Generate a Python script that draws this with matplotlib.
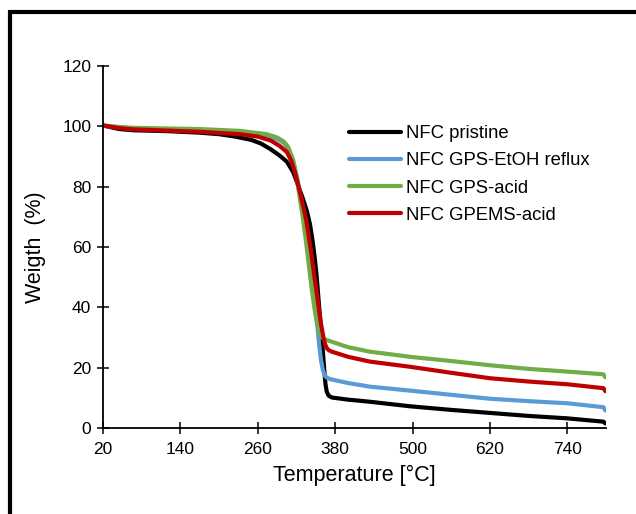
import matplotlib.pyplot as plt
from matplotlib.patches import Rectangle

plt.rcParams['font.family'] = ['Liberation Sans', 'DejaVu Sans']

# ========== data ==========
t_pristine = [20, 30, 45, 67, 120, 170, 200, 225, 250, 265, 280, 294, 305, 315, 322, 330, 336, 341,
              345, 348, 351, 356, 360, 363, 365, 367, 370, 375, 400, 434, 496, 560, 620, 680, 740, 796, 799]
w_pristine = [100.3, 99.8, 99.1, 98.7, 98.4, 97.9, 97.4, 96.6, 95.5, 94.3, 92.4, 90.3, 88.3, 84.8, 80.8, 76.0, 72.0, 67.5,
              62.0, 57.0, 51.0, 38.0, 28.0, 19.5, 14.5, 12.0, 10.7, 10.1, 9.4, 8.7, 7.2, 6.0, 5.0, 4.0, 3.2, 2.1, 1.5]

t_etoh = [20, 45, 67, 170, 232, 274, 290, 300, 307, 315, 322, 330, 337, 343, 350, 355, 358, 361,
          364, 368, 372, 400, 434, 496, 560, 620, 680, 740, 796, 799]
w_etoh = [100.2, 99.6, 99.3, 98.8, 98.2, 97.0, 95.8, 94.6, 92.8, 88.2, 82.0, 72.5, 63.0, 52.0, 39.0, 28.0, 22.5, 19.2,
          17.3, 16.6, 16.2, 14.9, 13.7, 12.4, 11.0, 9.7, 8.9, 8.2, 6.9, 5.8]

t_acid = [20, 45, 67, 170, 232, 274, 290, 300, 307, 315, 320, 325, 330, 335, 340, 344, 348, 351,
          354, 357, 360, 365, 372, 400, 434, 496, 560, 620, 680, 740, 796, 799]
w_acid = [100.3, 99.8, 99.5, 99.1, 98.5, 97.4, 96.3, 95.0, 93.2, 88.8, 83.5, 76.5, 69.5, 61.5, 52.5, 45.5, 39.5, 35.8,
          33.0, 31.0, 29.9, 29.3, 28.8, 26.8, 25.3, 23.6, 22.2, 20.8, 19.6, 18.7, 17.8, 16.8]

t_gpems = [20, 45, 67, 170, 232, 260, 280, 294, 305, 312, 318, 325, 332, 335, 338, 343, 347, 351, 355,
           358.5, 361.6, 364, 367, 370, 375, 400, 434, 496, 560, 620, 680, 740, 796, 799]
w_gpems = [100.3, 99.4, 99.0, 98.2, 97.4, 96.6, 95.3, 93.5, 91.5, 88.6, 84.5, 78.5, 72.0, 69.0, 65.0, 58.0, 51.5, 45.5, 39.0,
           34.0, 30.3, 28.0, 26.5, 25.8, 25.3, 23.6, 22.0, 20.3, 18.3, 16.5, 15.4, 14.5, 13.2, 12.2]

series = [
    ('NFC pristine', t_pristine, w_pristine, 'black'),
    ('NFC GPS-EtOH reflux', t_etoh, w_etoh, '#5B9BD5'),
    ('NFC GPS-acid', t_acid, w_acid, '#70AD47'),
    ('NFC GPEMS-acid', t_gpems, w_gpems, '#C00000'),
]

x_ticks = [20, 140, 260, 380, 500, 620, 740]
y_ticks = [0, 20, 40, 60, 80, 100, 120]

# ========== plot ==========
fig = plt.figure(figsize=(6.36, 5.14), dpi=100)
ax = fig.add_axes([103 / 636, 1 - 428 / 514, 503 / 636, 362 / 514])

for label, t, w, c in series:
    ax.plot(t, w, color=c, lw=3, label=label, solid_capstyle='round', solid_joinstyle='round')

ax.set_xlim(20, 800)
ax.set_ylim(0, 120)
ax.set_xticks(x_ticks)
ax.set_yticks(y_ticks)
for s in ['top', 'right']:
    ax.spines[s].set_visible(False)
for s in ['left', 'bottom']:
    ax.spines[s].set_linewidth(1.3)
ax.tick_params(axis='both', direction='inout', length=8, width=1.1, labelsize=12.5)
ax.tick_params(axis='x', pad=6)
ax.tick_params(axis='y', pad=4.5)
ax.set_xlabel('Temperature [°C]', fontsize=15.5, labelpad=6)
ax.set_ylabel('Weigth  (%)', fontsize=15.5, labelpad=12)

ax.legend(loc='upper left', bbox_to_anchor=(340 / 636, 1 - 116 / 514),
          bbox_transform=fig.transFigure, frameon=False, fontsize=13.3,
          handlelength=2.8, handletextpad=0.27, labelspacing=0.55, borderpad=0)

# frame round the whole picture (cut off at right and bottom like the reference)
fig.patches.append(Rectangle((10 / 636, -0.2), 1.3, 0.2 + 1 - 12 / 514, transform=fig.transFigure,
                             fill=False, lw=3, edgecolor='black', clip_on=False))

fig.savefig('out.png', dpi=100)
